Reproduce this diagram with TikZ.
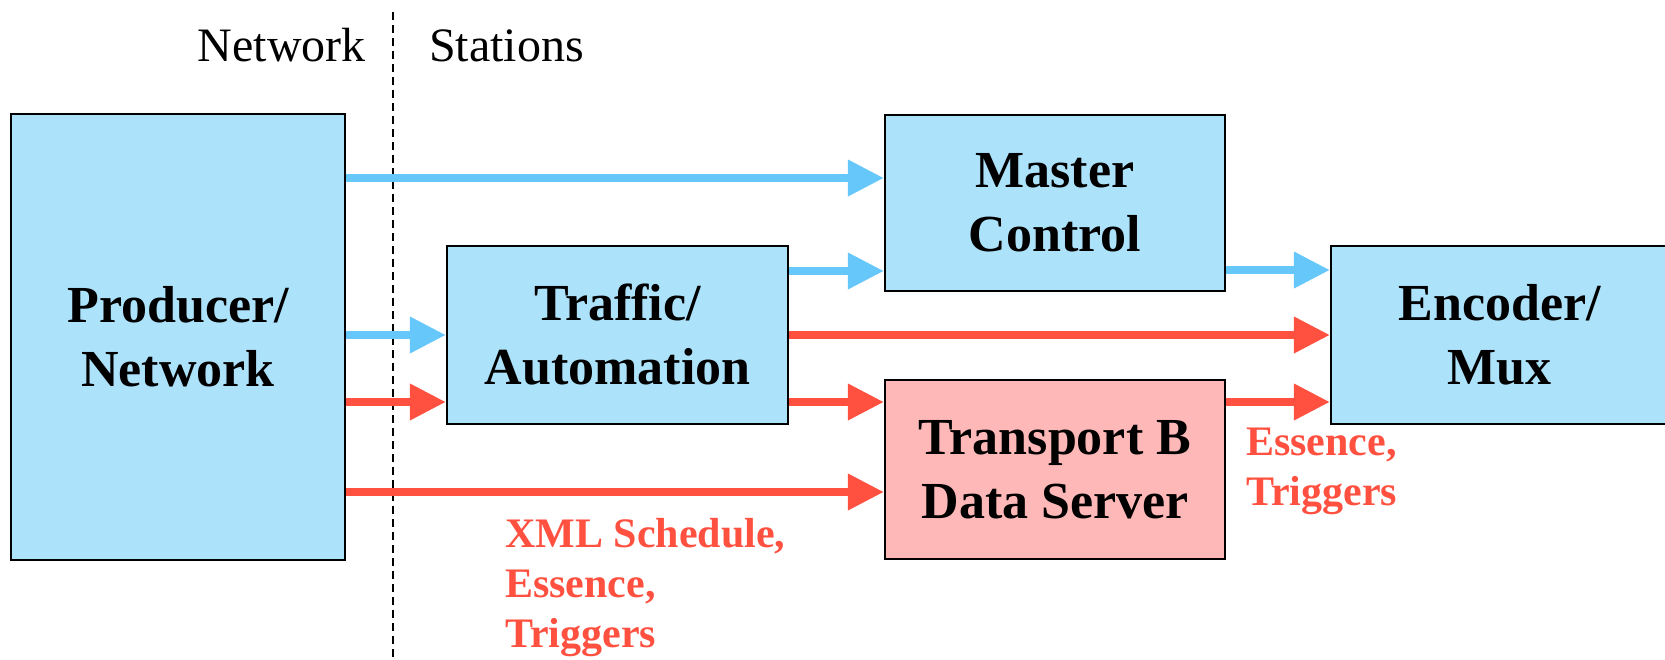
\documentclass[tikz,border=0pt]{standalone}
\usepackage{fontspec}
\setmainfont{Liberation Serif}
\usetikzlibrary{arrows.meta}
\definecolor{boxblue}{HTML}{ADE2FB}
\definecolor{arrblue}{HTML}{66C8FA}
\definecolor{arrred}{HTML}{FF5040}
\definecolor{boxpink}{HTML}{FFB8B8}
\begin{document}
\begin{tikzpicture}[x=1pt,y=-1pt,
  box/.style={draw=black,line width=2.5pt,inner sep=0pt,align=center,
    font=\fontsize{52}{64}\selectfont\bfseries},
  bluebox/.style={box,fill=boxblue},
  pinkbox/.style={box,fill=boxpink},
  barr/.style={draw=arrblue,line width=7.5pt,-{Triangle[length=36pt,width=35pt]}},
  rarr/.style={draw=arrred,line width=7.5pt,-{Triangle[length=36pt,width=35pt]}},
  redlabel/.style={text=arrred,inner sep=0pt,align=left,
    font=\fontsize{42}{50}\selectfont\bfseries},
  toplabel/.style={inner sep=0pt,font=\fontsize{48}{56}\selectfont}]
\useasboundingbox (0,0) rectangle (1665,659);
\clip (0,0) rectangle (1665,659);
\fill[white] (0,0) rectangle (1665,659);

\coordinate (dtop) at (393,12);
\coordinate (dbot) at (393,659);
\draw[line width=2pt,dash pattern=on 8pt off 5pt] (dtop) -- (dbot);
\node[toplabel,anchor=base east] (netlbl) at (366,61) {Network};
\node[toplabel,anchor=base west] (stalbl) at (429,61) {Stations};

\node[bluebox,minimum width=334pt,minimum height=446pt] (prod) at (178,337) {Producer/\\Network};
\node[bluebox,minimum width=341pt,minimum height=178pt] (traffic) at (617.5,335) {Traffic/\\Automation};
\node[bluebox,minimum width=340pt,minimum height=176pt] (master) at (1055,203) {Master\\Control};
\node[bluebox,minimum width=337pt,minimum height=178pt] (enc) at (1499.5,335) {Encoder/\\Mux};
\node[pinkbox,minimum width=340pt,minimum height=179pt] (trans) at (1055,469.5) {Transport B\\Data Server};

\draw[barr] (prod.east |- 0,178) -- (master.west |- 0,178);
\draw[barr] (traffic.east |- 0,271) -- (master.west |- 0,271);
\draw[barr] (master.east |- 0,270) -- (enc.west |- 0,270);
\draw[barr] (prod.east |- 0,335) -- (traffic.west |- 0,335);
\draw[rarr] (prod.east |- 0,402) -- (traffic.west |- 0,402);
\draw[rarr] (traffic.east |- 0,335) -- (enc.west |- 0,335);
\draw[rarr] (traffic.east |- 0,402) -- (trans.west |- 0,402);
\draw[rarr] (trans.east |- 0,402) -- (enc.west |- 0,402);
\draw[rarr] (prod.east |- 0,492) -- (trans.west |- 0,492);

\node[redlabel,anchor=base west] (lbl1) at (505,647) {XML Schedule,\\Essence,\\Triggers};
\node[redlabel,anchor=base west] (lbl2) at (1246,505) {Essence,\\Triggers};
\end{tikzpicture}
\end{document}
